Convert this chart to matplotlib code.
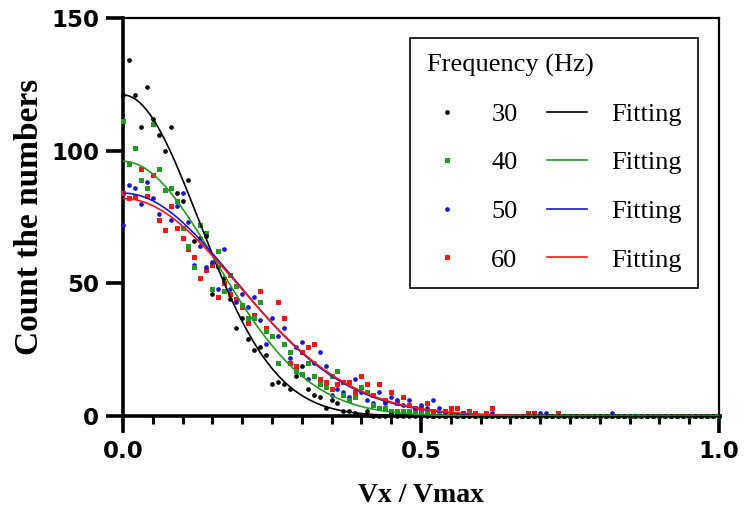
import matplotlib
matplotlib.use("Agg")
import matplotlib.pyplot as plt
from matplotlib.ticker import MultipleLocator, FormatStrFormatter
import numpy as np

# Vx / Vmax bins, 0.00 .. 1.00 step 0.01
vx = np.linspace(0, 1, 101)

freqs = [30, 40, 50, 60]

count_30 = [121, 134, 121, 109, 124, 112, 106, 100, 109, 84,
            81, 89, 66, 67, 68, 46, 56, 52, 44, 33,
            37, 29, 25, 26, 23, 12, 13, 12, 10, 15,
            19, 10, 8, 7, 3, 6, 5, 2, 2, 1,
            0, 2, 0, 0, 0, 1, 0, 0, 0, 0,
            0, 0, 0, 0, 0, 0, 0, 0, 0, 0,
            0, 0, 0, 0, 0, 0, 0, 0, 0, 0,
            0, 0, 0, 0, 0, 0, 0, 0, 0, 0,
            0, 0, 0, 0, 0, 0, 0, 0, 0, 0,
            0, 0, 0, 0, 0, 0, 0, 0, 0, 0,
            0]

count_40 = [111, 95, 101, 89, 86, 110, 93, 85, 86, 81,
            71, 64, 56, 72, 69, 48, 62, 47, 53, 49,
            42, 37, 37, 43, 32, 30, 20, 27, 24, 17,
            16, 20, 15, 12, 11, 15, 17, 8, 6, 7,
            11, 9, 4, 3, 3, 2, 2, 2, 2, 1,
            1, 2, 0, 1, 0, 1, 0, 0, 1, 0,
            0, 0, 0, 0, 0, 0, 0, 0, 0, 0,
            0, 0, 0, 0, 0, 0, 0, 0, 0, 0,
            0, 0, 0, 0, 0, 0, 0, 0, 0, 0,
            0, 0, 0, 0, 0, 0, 0, 0, 0, 0,
            0]

count_50 = [72, 87, 86, 80, 88, 82, 76, 85, 74, 79,
            84, 73, 57, 64, 56, 58, 48, 63, 48, 43,
            46, 41, 45, 36, 27, 37, 30, 33, 22, 26,
            28, 14, 20, 24, 19, 8, 10, 9, 7, 14,
            9, 6, 5, 9, 5, 7, 6, 4, 6, 3,
            4, 3, 6, 3, 1, 1, 0, 1, 0, 0,
            0, 0, 1, 0, 0, 0, 0, 0, 0, 0,
            1, 1, 0, 0, 0, 0, 0, 0, 0, 0,
            0, 0, 1, 0, 0, 0, 0, 0, 0, 0,
            0, 0, 0, 0, 0, 0, 0, 0, 0, 0,
            0]

count_60 = [84, 82, 83, 93, 83, 91, 74, 70, 79, 71,
            67, 63, 60, 52, 55, 57, 45, 50, 46, 44,
            41, 35, 38, 47, 33, 30, 43, 37, 20, 19,
            24, 26, 27, 14, 13, 10, 12, 13, 13, 9,
            15, 12, 8, 12, 6, 9, 5, 7, 4, 3,
            3, 5, 2, 1, 2, 3, 3, 1, 2, 1,
            0, 1, 3, 0, 0, 0, 0, 0, 1, 1,
            0, 0, 0, 1, 0, 0, 0, 0, 0, 0,
            0, 0, 0, 0, 0, 0, 0, 0, 0, 0,
            0, 0, 0, 0, 0, 0, 0, 0, 0, 0,
            0]

# gaussian fit parameters (peak, width)
fit_amp = [121, 96, 84, 82]
fit_sigma = [0.128, 0.156, 0.189, 0.192]

counts = [count_30, count_40, count_50, count_60]
colors = ["#000000", "#229a22", "#1818c8", "#ff1414"]
markers = ["o", "s", "o", "s"]
msizes = [3.4, 3.6, 3.4, 3.6]

fig = plt.figure(figsize=(7.45, 5.23), dpi=100)
ax = fig.add_axes([0.165, 0.2046, 0.8, 0.761])

xs = np.linspace(0, 1, 500)
pts = []
lines = []
for i in range(len(freqs)):
    p, = ax.plot(vx, counts[i], linestyle="none", marker=markers[i], ms=msizes[i],
                 color=colors[i], mew=0, clip_on=False, zorder=4 - i * 0.1)
    fit = fit_amp[i] * np.exp(-xs ** 2 / (2 * fit_sigma[i] ** 2))
    l, = ax.plot(xs, fit, color=colors[i], lw=1.2, zorder=5)
    pts.append(p)
    lines.append(l)

ax.set_xlim(0, 1)
ax.set_ylim(0, 150)
ax.set_xticks([0, 0.5, 1.0])
ax.xaxis.set_minor_locator(MultipleLocator(0.05))
ax.xaxis.set_major_formatter(FormatStrFormatter("%.1f"))
ax.set_yticks([0, 50, 100, 150])

for side in ["left", "bottom"]:
    ax.spines[side].set_linewidth(2.6)
for side in ["top", "right"]:
    ax.spines[side].set_linewidth(1.6)

ax.tick_params(which="major", direction="out", length=12, width=2.6, pad=5)
ax.tick_params(which="minor", direction="out", length=6, width=2.2)
ax.tick_params(top=False, right=False)
for lab in ax.get_xticklabels() + ax.get_yticklabels():
    lab.set_fontfamily("DejaVu Sans")
    lab.set_fontweight("bold")
    lab.set_fontsize(16.5)

ax.set_xlabel("Vx / Vmax", fontfamily="Liberation Serif", fontweight="bold", fontsize=20)
ax.xaxis.set_label_coords(0.5, -0.168)
ax.xaxis.label.set_va("top")
ax.set_ylabel("Count the numbers", fontfamily="Liberation Serif", fontweight="bold",
              fontsize=24)
ax.yaxis.set_label_coords(-0.131, 0.5)

leg = ax.legend(pts + lines, [str(f) for f in freqs] + ["Fitting"] * 4, ncol=2,
                title="Frequency (Hz)", alignment="left",
                loc="upper right", bbox_to_anchor=(0.965, 0.95),
                prop={"family": "Liberation Serif", "size": 19},
                title_fontproperties={"family": "Liberation Serif", "size": 19},
                frameon=True, fancybox=False, edgecolor="black", framealpha=1,
                handlelength=1.55, handletextpad=0.9, columnspacing=1.1,
                labelspacing=0.95, borderpad=0.62, borderaxespad=0)
leg.get_frame().set_linewidth(1.2)

fig.savefig("out.png", dpi=100)
